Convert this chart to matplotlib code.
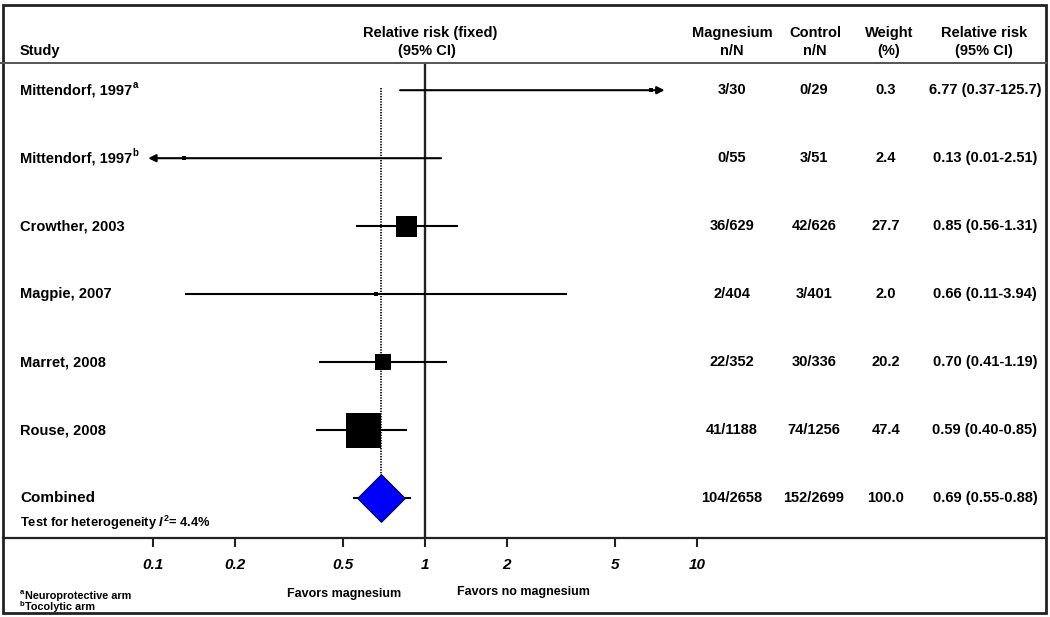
import matplotlib
matplotlib.use("Agg")
from matplotlib import pyplot as plt
from matplotlib import transforms
from matplotlib.patches import Rectangle
from matplotlib.lines import Line2D

plt.rcParams['font.family'] = ['Liberation Sans', 'DejaVu Sans']
plt.rcParams['mathtext.fontset'] = 'custom'
plt.rcParams['mathtext.rm'] = 'Liberation Sans:bold'
plt.rcParams['mathtext.it'] = 'Liberation Sans:italic:bold'
plt.rcParams['mathtext.bf'] = 'Liberation Sans:bold'

### data
studies = ["Mittendorf, 1997", "Mittendorf, 1997", "Crowther, 2003",
           "Magpie, 2007", "Marret, 2008", "Rouse, 2008"]
sup = ["a", "b", "", "", "", ""]
rr = [6.77, 0.13, 0.85, 0.66, 0.70, 0.59]
# confidence lines as they are drawn in the figure
line_lo = [0.81, 0.096, 0.56, 0.132, 0.41, 0.40]
line_hi = [7.6, 1.145, 1.31, 3.3, 1.19, 0.85]
arrow = ["right", "left", "", "", "", ""]
mg_n = ["3/30", "0/55", "36/629", "2/404", "22/352", "41/1188"]
ctl_n = ["0/29", "3/51", "42/626", "3/401", "30/336", "74/1256"]
weight = [0.3, 2.4, 27.7, 2.0, 20.2, 47.4]
rr_txt = ["6.77 (0.37-125.7)", "0.13 (0.01-2.51)", "0.85 (0.56-1.31)",
          "0.66 (0.11-3.94)", "0.70 (0.41-1.19)", "0.59 (0.40-0.85)"]

comb_rr = 0.69
comb_lo = 0.55
comb_hi = 0.88
comb_mg = "104/2658"
comb_ctl = "152/2699"
comb_w = 100.0
comb_txt = "0.69 (0.55-0.88)"

ticks = [0.1, 0.2, 0.5, 1, 2, 5, 10]
tick_labels = ["0.1", "0.2", "0.5", "1", "2", "5", "10"]

# square sizes in pixels (style)
sq_px = [4, 5, 21, 4, 16, 35]

W, H = 1050, 617
def fx(px):
    return px / W
def fy(py):
    return 1 - py / H

fig = plt.figure(figsize=(10.5, 6.17), dpi=100)
renderer = fig.canvas.get_renderer()

## forest axes: log scale, 272 px per decade, RR=1 at x=425
ax_l, ax_r = 100, 750
ax_t, ax_b = 63, 538
ax = fig.add_axes([fx(ax_l), fy(ax_b), (ax_r - ax_l) / W, (ax_b - ax_t) / H])
ax.set_xscale('log')
ax.set_xlim(10 ** ((ax_l - 425) / 272.0), 10 ** ((ax_r - 425) / 272.0))
ax.set_ylim((ax_b - ax_t) / 68.0 - 0.4, -0.4)
for s in ax.spines.values():
    s.set_visible(False)
ax.patch.set_visible(False)
ax.set_yticks([])
ax.set_xticks(ticks)
ax.set_xticks([], minor=True)
ax.set_xticklabels(tick_labels, fontsize=11, fontweight='bold', fontstyle='italic')
ax.tick_params(axis='x', direction='out', length=6.5, width=1.5, pad=8, color='#222')

ax.axvline(1, color='#222', lw=1.7, zorder=1)
ax.plot([comb_rr, comb_rr], [-0.03, 6 - 0.34], color='black', lw=1.2,
        linestyle=(0, (0.8, 0.8)), zorder=1)

for i in range(len(studies)):
    if arrow[i] == "right":
        ax.annotate("", xy=(line_hi[i], i), xytext=(line_lo[i], i),
                    arrowprops=dict(arrowstyle='-|>', lw=1.5, color='black',
                                    mutation_scale=11, shrinkA=0, shrinkB=0))
    elif arrow[i] == "left":
        ax.annotate("", xy=(line_lo[i], i), xytext=(line_hi[i], i),
                    arrowprops=dict(arrowstyle='-|>', lw=1.5, color='black',
                                    mutation_scale=11, shrinkA=0, shrinkB=0))
    else:
        ax.plot([line_lo[i], line_hi[i]], [i, i], color='black', lw=1.5, zorder=2)
    ax.plot(rr[i], i, marker='s', markersize=sq_px[i] * 0.72, color='black',
            markeredgewidth=0, zorder=3)

# combined
ax.plot([comb_lo, comb_hi], [6, 6], color='black', lw=1.5, zorder=2)
ax.plot(comb_rr, 6, marker='D', markersize=24.5, markerfacecolor='#0000ff',
        markeredgecolor='black', markeredgewidth=0.6, zorder=3)

## text columns, x in figure fraction, y in row units
tr = transforms.blended_transform_factory(fig.transFigure, ax.transData)
fs = 10.5
for i in range(len(studies)):
    t = ax.text(fx(20), i, studies[i], transform=tr, fontsize=fs,
                fontweight='bold', ha='left', va='center')
    if sup[i]:
        bb = t.get_window_extent(renderer)
        ax.text(bb.x1 / fig.bbox.width + fx(0.5), i - 0.07, sup[i], transform=tr,
                fontsize=7, fontweight='bold', ha='left', va='center')
    ax.text(fx(732), i, mg_n[i], transform=tr, fontsize=fs, fontweight='bold',
            ha='center', va='center')
    ax.text(fx(814), i, ctl_n[i], transform=tr, fontsize=fs, fontweight='bold',
            ha='center', va='center')
    ax.text(fx(886), i, "%.1f" % weight[i], transform=tr, fontsize=fs,
            fontweight='bold', ha='center', va='center')
    ax.text(fx(985), i, rr_txt[i], transform=tr, fontsize=fs, fontweight='bold',
            ha='center', va='center')

ax.text(fx(20), 6, "Combined", transform=tr, fontsize=11, fontweight='bold',
        ha='left', va='center')
ax.text(fx(20), 6.36, r"Test for heterogeneity $I^2$= 4.4%", transform=tr,
        fontsize=9.3, fontweight='bold', ha='left', va='center')
ax.text(fx(732), 6, comb_mg, transform=tr, fontsize=fs, fontweight='bold',
        ha='center', va='center')
ax.text(fx(814), 6, comb_ctl, transform=tr, fontsize=fs, fontweight='bold',
        ha='center', va='center')
ax.text(fx(886), 6, "%.1f" % comb_w, transform=tr, fontsize=fs,
        fontweight='bold', ha='center', va='center')
ax.text(fx(985), 6, comb_txt, transform=tr, fontsize=fs, fontweight='bold',
        ha='center', va='center')

## headers
hdr = dict(fontsize=fs, fontweight='bold', ha='center', va='center')
fig.text(fx(20), fy(51), "Study", fontsize=fs, fontweight='bold', ha='left', va='center')
fig.text(fx(430), fy(33), "Relative risk (fixed)", **hdr)
fig.text(fx(427), fy(51), "(95% CI)", **hdr)
fig.text(fx(732), fy(33), "Magnesium", **hdr)
fig.text(fx(732), fy(51), "n/N", **hdr)
fig.text(fx(815), fy(33), "Control", **hdr)
fig.text(fx(815), fy(51), "n/N", **hdr)
fig.text(fx(889), fy(33), "Weight", **hdr)
fig.text(fx(889), fy(51), "(%)", **hdr)
fig.text(fx(984), fy(33), "Relative risk", **hdr)
fig.text(fx(984), fy(51), "(95% CI)", **hdr)

fig.text(fx(344), fy(594), "Favors magnesium", fontsize=9, fontweight='bold',
         ha='center', va='center')
fig.text(fx(523), fy(592), "Favors no magnesium", fontsize=9, fontweight='bold',
         ha='center', va='center')

## footnotes
fig.text(fx(20), fy(592), "a", fontsize=5.5, fontweight='bold', ha='left', va='center')
fig.text(fx(25), fy(596), "Neuroprotective arm", fontsize=7.8, fontweight='bold',
         ha='left', va='center')
fig.text(fx(20), fy(604), "b", fontsize=5.5, fontweight='bold', ha='left', va='center')
fig.text(fx(25), fy(607.5), "Tocolytic arm", fontsize=7.8, fontweight='bold',
         ha='left', va='center')

## frame and rule lines
fig.add_artist(Rectangle((fx(3), fy(613)), fx(1046) - fx(3), fy(5) - fy(613),
                         transform=fig.transFigure, fill=False, lw=2,
                         edgecolor='#222'))
fig.add_artist(Line2D([0, fx(1046)], [fy(63), fy(63)], transform=fig.transFigure,
                      color='#555', lw=1.4))
fig.add_artist(Line2D([fx(3), fx(1046)], [fy(538), fy(538)], transform=fig.transFigure,
                      color='#222', lw=1.6))

plt.savefig("out.png", dpi=100)
